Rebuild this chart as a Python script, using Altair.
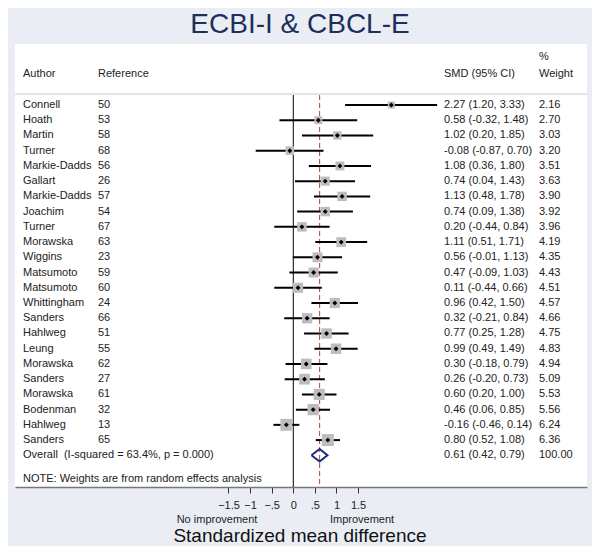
import altair as alt
import pandas as pd

# ---- data ----
authors = ["Connell", "Hoath", "Martin", "Turner", "Markie-Dadds", "Gallart",
           "Markie-Dadds", "Joachim", "Turner", "Morawska", "Wiggins", "Matsumoto",
           "Matsumoto", "Whittingham", "Sanders", "Hahlweg", "Leung", "Morawska",
           "Sanders", "Morawska", "Bodenman", "Hahlweg", "Sanders"]
references = [50, 53, 58, 68, 56, 26, 57, 54, 67, 63, 23, 59, 60, 24, 66, 51, 55,
              62, 27, 61, 32, 13, 65]
smd = [2.27, 0.58, 1.02, -0.08, 1.08, 0.74, 1.13, 0.74, 0.20, 1.11, 0.56, 0.47,
       0.11, 0.96, 0.32, 0.77, 0.99, 0.30, 0.26, 0.60, 0.46, -0.16, 0.80]
ci_low = [1.20, -0.32, 0.20, -0.87, 0.36, 0.04, 0.48, 0.09, -0.44, 0.51, -0.01,
          -0.09, -0.44, 0.42, -0.21, 0.25, 0.49, -0.18, -0.20, 0.20, 0.06, -0.46, 0.52]
ci_high = [3.33, 1.48, 1.85, 0.70, 1.80, 1.43, 1.78, 1.38, 0.84, 1.71, 1.13, 1.03,
           0.66, 1.50, 0.84, 1.28, 1.49, 0.79, 0.73, 1.00, 0.85, 0.14, 1.08]
weights = [2.16, 2.70, 3.03, 3.20, 3.51, 3.63, 3.90, 3.92, 3.96, 4.19, 4.35, 4.43,
           4.51, 4.57, 4.66, 4.75, 4.83, 4.94, 5.09, 5.53, 5.56, 6.24, 6.36]

title_text = "ECBI-I & CBCL-E"
overall_label = "Overall\u00a0 (I-squared = 63.4%, p = 0.000)"
overall_est, overall_low, overall_high, overall_weight = 0.61, 0.42, 0.79, 100.00
note_text = "NOTE: Weights are from random effects analysis"
tick_values = [-1.5, -1, -0.5, 0, 0.5, 1, 1.5]

# ---- tables built from the lists ----
studies = pd.DataFrame({
    "row": list(range(len(authors))),
    "author": authors,
    "ref": [str(r) for r in references],
    "smd": smd,
    "lo": ci_low,
    "hi": ci_high,
    "weight": weights,
})
studies["ci_text"] = [f"{s:.2f} ({l:.2f}, {h:.2f})" for s, l, h in zip(smd, ci_low, ci_high)]
studies["w_text"] = [f"{w:.2f}" for w in weights]

ov_row = len(authors)
overall = pd.DataFrame({
    "row": [ov_row],
    "author": [overall_label],
    "ci_text": [f"{overall_est:.2f} ({overall_low:.2f}, {overall_high:.2f})"],
    "w_text": [f"{overall_weight:.2f}"],
})
half_h = 0.41
diamond = pd.DataFrame({
    "x": [overall_low, overall_est, overall_high, overall_est, overall_low],
    "y": [ov_row, ov_row - half_h, ov_row, ov_row + half_h, ov_row],
    "ord": [0, 1, 2, 3, 4],
})
one = pd.DataFrame({"k": [0]})

W, H = 572, 443
FONT = "Liberation Sans"
TXT = "#222222"

xscale = alt.Scale(domain=[-6.442, 6.799], nice=False, zero=False)
yscale = alt.Scale(domain=[-4.005, 25.08], nice=False, zero=False, reverse=True)
xaxis = alt.Axis(values=tick_values, title=None, grid=False,
                 labelExpr="replace(format(datum.value, '~g'), '0.', '.')",
                 labelFontSize=11, labelFont=FONT, labelColor=TXT, labelPadding=6,
                 tickSize=6, tickColor="#333333", tickWidth=1,
                 domainColor="#777777", domainWidth=1.5, labelFlush=False)

X = lambda f: alt.X(f, scale=xscale, axis=xaxis)
Y = lambda f: alt.Y(f, scale=yscale, axis=None)

base = alt.Chart(studies)

ci = base.mark_rule(color="black", strokeWidth=2).encode(
    x=X("lo:Q"), x2="hi:Q", y=Y("row:Q"))

boxes = base.mark_point(shape="square", filled=True, color="#BDBDBD", opacity=1,
                        strokeWidth=0).encode(
    x=X("smd:Q"), y=Y("row:Q"),
    size=alt.Size("weight:Q", scale=alt.Scale(domain=[0, 10], range=[0, 227]), legend=None))

dots = base.mark_point(shape="diamond", filled=True, color="black", opacity=1,
                       size=24).encode(x=X("smd:Q"), y=Y("row:Q"))

zero_line = alt.Chart(one).mark_rule(color="black", strokeWidth=1).encode(
    x=alt.X(datum=0, scale=xscale, axis=xaxis), y=alt.value(51), y2=alt.value(H))

est_line = alt.Chart(one).mark_rule(color="#B5403A", strokeWidth=1,
                                    strokeDash=[5, 3]).encode(
    x=alt.X(datum=overall_est, scale=xscale, axis=xaxis), y=alt.value(51), y2=alt.value(H))

header_line = alt.Chart(one).mark_rule(color="#C8C8C8", strokeWidth=1).encode(
    x=alt.value(0), x2=alt.value(W), y=alt.value(50))

dia = alt.Chart(diamond).mark_line(color="#1A2A80", strokeWidth=2).encode(
    x=X("x:Q"), y=Y("y:Q"), order="ord:O")

def col(df, field, xpix):
    return alt.Chart(df).mark_text(align="left", baseline="middle", fontSize=11,
                                   font=FONT, color=TXT).encode(
        x=alt.value(xpix), y=Y("row:Q"), text=f"{field}:N")

txt_author = col(studies, "author", 8)
txt_ref = col(studies, "ref", 83)
txt_ci = col(studies, "ci_text", 429)
txt_w = col(studies, "w_text", 524)
ov_author = col(overall, "author", 8)
ov_ci = col(overall, "ci_text", 429)
ov_w = col(overall, "w_text", 524)

def label(text, xpix, ypix, size=11, align="left", color=TXT, baseline="middle"):
    return alt.Chart(one).mark_text(text=text, align=align, baseline=baseline,
                                    fontSize=size, font=FONT, color=color).encode(
        x=alt.value(xpix), y=alt.value(ypix))

headers = [
    label(title_text, 285, -10.7, size=28, align="center", color="#1E2F5E",
          baseline="alphabetic"),
    label("Author", 8, 30),
    label("Reference", 83, 30),
    label("SMD (95% CI)", 429, 30),
    label("%", 524, 13),
    label("Weight", 524, 30),
    label(note_text, 8, 435),
    label("No improvement", 202, 479, align="center", baseline="alphabetic"),
    label("Improvement", 347, 479, align="center", baseline="alphabetic"),
    label("Standardized mean difference", 285, 497.5, size=19, align="center",
          color="#111111", baseline="alphabetic"),
]

chart = alt.layer(
    header_line, zero_line, est_line, ci, boxes, dots, dia,
    txt_author, txt_ref, txt_ci, txt_w, ov_author, ov_ci, ov_w, *headers
).properties(
    width=W, height=H,
    padding={"left": 7, "top": 36, "right": 5, "bottom": 59},
    autosize=alt.AutoSizeParams(type="none"),
).configure(background="#EAEEF4").configure_view(fill="white", strokeWidth=0)

chart.save("out.html", embed_options={"renderer": "svg", "actions": False})
